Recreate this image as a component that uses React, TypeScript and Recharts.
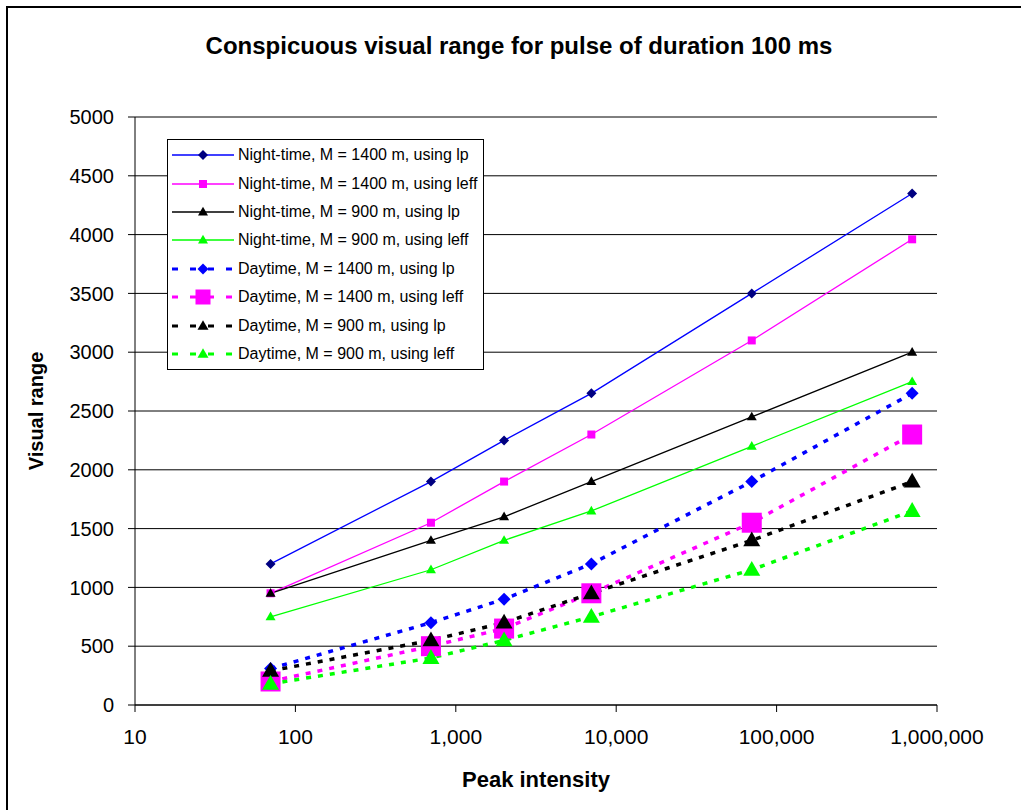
import React from 'react';
import { LineChart, Line, XAxis, YAxis, CartesianGrid, Legend } from 'recharts';

// peak intensity of the pulse (x, log scale)
const intensity = [70, 700, 2000, 7000, 70000, 700000];

// visual range (m) for each case
const nightLp1400 = [1200, 1900, 2250, 2650, 3500, 4350];
const nightLeff1400 = [950, 1550, 1900, 2300, 3100, 3960];
const nightLp900 = [950, 1400, 1600, 1900, 2450, 3000];
const nightLeff900 = [750, 1150, 1400, 1650, 2200, 2750];
const dayLp1400 = [310, 700, 900, 1200, 1900, 2650];
const dayLeff1400 = [200, 500, 650, 950, 1550, 2300];
const dayLp900 = [290, 550, 700, 950, 1400, 1900];
const dayLeff900 = [180, 400, 550, 750, 1150, 1650];

const xTicks = [10, 100, 1000, 10000, 100000, 1000000];
const yTicks = [0, 500, 1000, 1500, 2000, 2500, 3000, 3500, 4000, 4500, 5000];

const FONT = '"Liberation Sans", Arial, sans-serif';

type Shape = 'diamond' | 'square' | 'triangle';

interface SeriesDef {
  key: string;
  name: string;
  values: number[];
  stroke: string;
  dashed: boolean;
  shape: Shape;
  fill: string;
  size: number;
  legendSize: number;
}

const series: SeriesDef[] = [
  { key: 'nightLp1400', name: 'Night-time, M = 1400 m, using lp', values: nightLp1400, stroke: '#0000FF', dashed: false, shape: 'diamond', fill: '#000080', size: 10, legendSize: 10 },
  { key: 'nightLeff1400', name: 'Night-time, M = 1400 m, using leff', values: nightLeff1400, stroke: '#FF00FF', dashed: false, shape: 'square', fill: '#FF00FF', size: 8, legendSize: 8 },
  { key: 'nightLp900', name: 'Night-time, M = 900 m, using lp', values: nightLp900, stroke: '#000000', dashed: false, shape: 'triangle', fill: '#000000', size: 10, legendSize: 10 },
  { key: 'nightLeff900', name: 'Night-time, M = 900 m, using leff', values: nightLeff900, stroke: '#00FF00', dashed: false, shape: 'triangle', fill: '#00FF00', size: 10, legendSize: 10 },
  { key: 'dayLp1400', name: 'Daytime, M = 1400 m, using lp', values: dayLp1400, stroke: '#0000FF', dashed: true, shape: 'diamond', fill: '#0000FF', size: 13, legendSize: 11 },
  { key: 'dayLeff1400', name: 'Daytime, M = 1400 m, using leff', values: dayLeff1400, stroke: '#FF00FF', dashed: true, shape: 'square', fill: '#FF00FF', size: 20, legendSize: 15 },
  { key: 'dayLp900', name: 'Daytime, M = 900 m, using lp', values: dayLp900, stroke: '#000000', dashed: true, shape: 'triangle', fill: '#000000', size: 17, legendSize: 11 },
  { key: 'dayLeff900', name: 'Daytime, M = 900 m, using leff', values: dayLeff900, stroke: '#00FF00', dashed: true, shape: 'triangle', fill: '#00FF00', size: 17, legendSize: 11 },
];

const rows = intensity.map((x, i) => {
  const row: Record<string, number> = { x };
  series.forEach((s) => {
    row[s.key] = s.values[i];
  });
  return row;
});

const Marker = ({ cx, cy, shape, size, fill }: { cx: number; cy: number; shape: Shape; size: number; fill: string }) => {
  const h = size / 2;
  if (shape === 'square') {
    return <rect x={cx - h} y={cy - h} width={size} height={size} fill={fill} />;
  }
  if (shape === 'diamond') {
    return <polygon points={`${cx},${cy - h} ${cx + h},${cy} ${cx},${cy + h} ${cx - h},${cy}`} fill={fill} />;
  }
  const th = size * 0.87;
  return (
    <polygon
      points={`${cx},${cy - th * 0.6} ${cx + h},${cy + th * 0.4} ${cx - h},${cy + th * 0.4}`}
      fill={fill}
    />
  );
};

const LegendBox = () => (
  <div
    style={{
      width: 315,
      height: 228,
      border: '1px solid #000',
      background: '#fff',
      boxSizing: 'content-box',
      paddingTop: 1,
    }}
  >
    {series.map((s) => (
      <div key={s.key} style={{ display: 'flex', alignItems: 'center', height: 28.4 }}>
        <svg width={70} height={28} style={{ flex: 'none' }}>
          <line
            x1={4}
            x2={66}
            y1={14}
            y2={14}
            stroke={s.stroke}
            strokeWidth={s.dashed ? 3 : 1.3}
            strokeDasharray={s.dashed ? '6 12' : undefined}
          />
          <Marker cx={35} cy={14} shape={s.shape} size={s.legendSize} fill={s.fill} />
        </svg>
        <span style={{ fontFamily: FONT, fontSize: 16, color: '#000', whiteSpace: 'nowrap' }}>{s.name}</span>
      </div>
    ))}
  </div>
);

const fmt = (v: number) => v.toLocaleString('en-US');

export default function App() {
  return (
    <div style={{ position: 'absolute', left: 0, top: 0, width: 1021, height: 810, background: '#fff', overflow: 'hidden' }}>
      <div
        style={{
          position: 'absolute',
          left: 6,
          top: 6,
          width: 1100,
          height: 900,
          borderTop: '2px solid #000',
          borderLeft: '2px solid #000',
        }}
      />
      <div
        style={{
          position: 'absolute',
          left: 0,
          width: 1038,
          top: 32,
          textAlign: 'center',
          fontFamily: FONT,
          fontWeight: 'bold',
          fontSize: 24,
          color: '#000',
        }}
      >
        Conspicuous visual range for pulse of duration 100 ms
      </div>
      <div style={{ position: 'absolute', left: 0, top: 0 }}>
        <LineChart width={1021} height={810} data={rows} margin={{ top: 117, right: 84, left: 0, bottom: 0 }}>
          <CartesianGrid vertical={false} stroke="#000" strokeWidth={1} />
          <XAxis
            dataKey="x"
            type="number"
            scale="log"
            domain={[10, 1000000]}
            ticks={xTicks}
            tickFormatter={fmt}
            allowDataOverflow
            height={105}
            stroke="#000"
            tickSize={7}
            tickMargin={17}
            tick={{ fill: '#000', fontSize: 21, fontFamily: FONT }}
            label={{
              value: 'Peak intensity',
              position: 'insideBottom',
              offset: 23,
              style: { fill: '#000', fontSize: 22, fontWeight: 'bold', fontFamily: FONT },
            }}
          />
          <YAxis
            type="number"
            domain={[0, 5000]}
            ticks={yTicks}
            interval={0}
            width={135}
            stroke="#000"
            tickSize={7}
            tickMargin={14}
            tick={{ fill: '#000', fontSize: 20, fontFamily: FONT }}
            label={{
              value: 'Visual range',
              angle: -90,
              position: 'insideLeft',
              offset: 36,
              style: { fill: '#000', fontSize: 20, fontWeight: 'bold', fontFamily: FONT, textAnchor: 'middle' },
            }}
          />
          <Legend
            layout="vertical"
            align="center"
            verticalAlign="middle"
            wrapperStyle={{ left: 167, top: 139, width: 317, height: 230 }}
            content={() => <LegendBox />}
          />
          {series.map((s) => (
            <Line
              key={s.key}
              dataKey={s.key}
              name={s.name}
              type="linear"
              stroke={s.stroke}
              strokeWidth={s.dashed ? 3.5 : 1.3}
              strokeDasharray={s.dashed ? '5 7' : undefined}
              isAnimationActive={false}
              activeDot={false}
              dot={(p: any) => (
                <Marker key={`${s.key}-${p.index}`} cx={p.cx} cy={p.cy} shape={s.shape} size={s.size} fill={s.fill} />
              )}
            />
          ))}
        </LineChart>
      </div>
    </div>
  );
}
